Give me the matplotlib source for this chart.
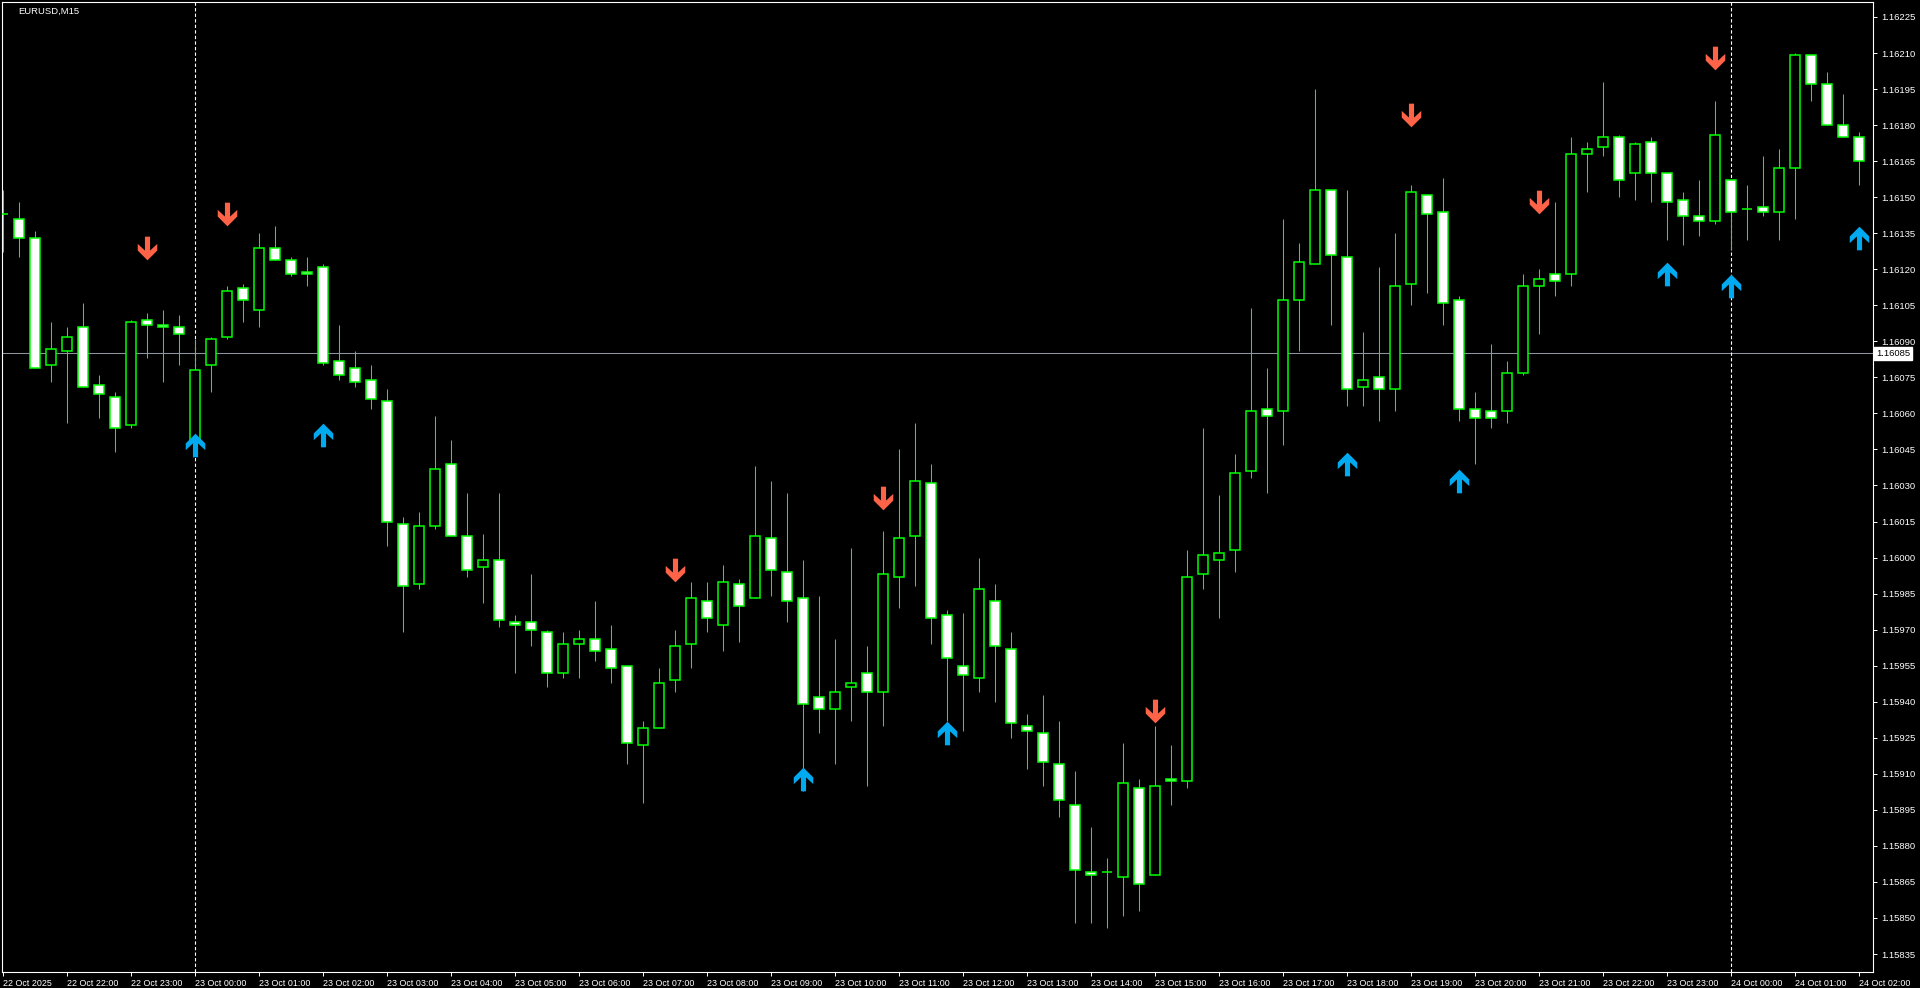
import matplotlib
matplotlib.use('Agg')
import matplotlib.pyplot as plt
import matplotlib.transforms as mtransforms
from matplotlib.path import Path
import numpy as np

plt.rcParams['font.family'] = ['Liberation Sans', 'DejaVu Sans']

symbol = 'EURUSD,M15'

# M15 bars, 22 Oct 21:00 .. 24 Oct 02:00
opens = [1.16143, 1.16141, 1.16133, 1.16080, 1.16086, 1.16096, 1.16072, 1.16067, 1.16055, 1.16099,
         1.16097, 1.16096, 1.16048, 1.16080, 1.16092, 1.16112, 1.16103, 1.16129, 1.16124, 1.16119,
         1.16121, 1.16082, 1.16079, 1.16074, 1.16065, 1.16014, 1.15989, 1.16013, 1.16039, 1.16009,
         1.15996, 1.15999, 1.15973, 1.15973, 1.15969, 1.15952, 1.15964, 1.15966, 1.15962, 1.15955,
         1.15922, 1.15929, 1.15949, 1.15964, 1.15982, 1.15972, 1.15989, 1.15983, 1.16008, 1.15994,
         1.15983, 1.15942, 1.15937, 1.15946, 1.15952, 1.15944, 1.15992, 1.16009, 1.16031, 1.15976,
         1.15955, 1.15950, 1.15982, 1.15962, 1.15930, 1.15927, 1.15914, 1.15897, 1.15869, 1.15869,
         1.15867, 1.15904, 1.15868, 1.15908, 1.15907, 1.15993, 1.15999, 1.16003, 1.16036, 1.16062,
         1.16061, 1.16107, 1.16122, 1.16153, 1.16125, 1.16071, 1.16075, 1.16070, 1.16114, 1.16151,
         1.16144, 1.16107, 1.16062, 1.16061, 1.16061, 1.16077, 1.16113, 1.16118, 1.16118, 1.16168,
         1.16171, 1.16175, 1.16160, 1.16173, 1.16160, 1.16149, 1.16142, 1.16140, 1.16157, 1.16145,
         1.16146, 1.16144, 1.16162, 1.16209, 1.16197, 1.16180, 1.16175]
highs = [1.16153, 1.16148, 1.16136, 1.16098, 1.16096, 1.16106, 1.16076, 1.16069, 1.16099, 1.16102,
         1.16103, 1.16101, 1.16091, 1.16092, 1.16113, 1.16114, 1.16135, 1.16138, 1.16125, 1.16125,
         1.16122, 1.16097, 1.16086, 1.16080, 1.16070, 1.16017, 1.16019, 1.16059, 1.16049, 1.16027,
         1.16010, 1.16027, 1.15976, 1.15993, 1.15970, 1.15969, 1.15970, 1.15982, 1.15972, 1.15955,
         1.15932, 1.15954, 1.15970, 1.15990, 1.15990, 1.15997, 1.15991, 1.16038, 1.16032, 1.16027,
         1.15999, 1.15984, 1.15966, 1.16004, 1.15963, 1.16011, 1.16045, 1.16056, 1.16039, 1.15978,
         1.15977, 1.16000, 1.15989, 1.15969, 1.15935, 1.15943, 1.15932, 1.15911, 1.15888, 1.15875,
         1.15923, 1.15908, 1.15930, 1.15922, 1.16003, 1.16054, 1.16026, 1.16043, 1.16104, 1.16079,
         1.16141, 1.16131, 1.16195, 1.16153, 1.16153, 1.16094, 1.16121, 1.16135, 1.16155, 1.16151,
         1.16158, 1.16109, 1.16069, 1.16089, 1.16082, 1.16118, 1.16120, 1.16148, 1.16175, 1.16173,
         1.16198, 1.16176, 1.16173, 1.16175, 1.16160, 1.16152, 1.16157, 1.16190, 1.16157, 1.16155,
         1.16167, 1.16170, 1.16210, 1.16209, 1.16202, 1.16193, 1.16177]
lows = [1.16127, 1.16125, 1.16079, 1.16073, 1.16056, 1.16071, 1.16058, 1.16044, 1.16054, 1.16083,
        1.16073, 1.16080, 1.16047, 1.16069, 1.16091, 1.16098, 1.16096, 1.16124, 1.16117, 1.16113,
        1.16080, 1.16074, 1.16071, 1.16062, 1.16005, 1.15969, 1.15987, 1.16012, 1.16009, 1.15992,
        1.15981, 1.15971, 1.15952, 1.15963, 1.15946, 1.15950, 1.15950, 1.15957, 1.15948, 1.15914,
        1.15898, 1.15929, 1.15944, 1.15954, 1.15969, 1.15961, 1.15965, 1.15983, 1.15984, 1.15973,
        1.15903, 1.15927, 1.15914, 1.15932, 1.15905, 1.15930, 1.15979, 1.15988, 1.15964, 1.15932,
        1.15928, 1.15944, 1.15940, 1.15925, 1.15912, 1.15905, 1.15892, 1.15848, 1.15848, 1.15846,
        1.15851, 1.15853, 1.15868, 1.15897, 1.15904, 1.15987, 1.15975, 1.15994, 1.16033, 1.16027,
        1.16047, 1.16086, 1.16122, 1.16097, 1.16063, 1.16063, 1.16057, 1.16061, 1.16105, 1.16110,
        1.16097, 1.16057, 1.16039, 1.16054, 1.16056, 1.16076, 1.16093, 1.16109, 1.16113, 1.16152,
        1.16167, 1.16150, 1.16149, 1.16148, 1.16132, 1.16130, 1.16134, 1.16139, 1.16128, 1.16132,
        1.16142, 1.16132, 1.16141, 1.16190, 1.16180, 1.16175, 1.16155]
closes = [1.16143, 1.16133, 1.16079, 1.16087, 1.16092, 1.16071, 1.16068, 1.16054, 1.16098, 1.16097,
          1.16096, 1.16093, 1.16078, 1.16091, 1.16111, 1.16107, 1.16129, 1.16124, 1.16118, 1.16118,
          1.16081, 1.16076, 1.16073, 1.16066, 1.16015, 1.15988, 1.16013, 1.16037, 1.16009, 1.15995,
          1.15999, 1.15974, 1.15972, 1.15970, 1.15952, 1.15964, 1.15966, 1.15961, 1.15954, 1.15923,
          1.15929, 1.15948, 1.15963, 1.15983, 1.15975, 1.15990, 1.15980, 1.16009, 1.15995, 1.15982,
          1.15939, 1.15937, 1.15944, 1.15948, 1.15944, 1.15993, 1.16008, 1.16032, 1.15975, 1.15958,
          1.15951, 1.15987, 1.15963, 1.15931, 1.15928, 1.15915, 1.15899, 1.15870, 1.15868, 1.15869,
          1.15906, 1.15864, 1.15905, 1.15907, 1.15992, 1.16001, 1.16002, 1.16035, 1.16061, 1.16059,
          1.16107, 1.16123, 1.16153, 1.16126, 1.16070, 1.16074, 1.16070, 1.16113, 1.16152, 1.16143,
          1.16106, 1.16062, 1.16058, 1.16058, 1.16077, 1.16113, 1.16116, 1.16115, 1.16168, 1.16170,
          1.16175, 1.16157, 1.16172, 1.16160, 1.16148, 1.16142, 1.16140, 1.16176, 1.16144, 1.16145,
          1.16144, 1.16162, 1.16209, 1.16197, 1.16180, 1.16175, 1.16165]

# hour labels, one every 4 bars
hour_labels = ['22 Oct 2025', '22 Oct 22:00', '22 Oct 23:00'] + \
              ['23 Oct %02d:00' % h for h in range(24)] + \
              ['24 Oct 00:00', '24 Oct 01:00', '24 Oct 02:00']

# indicator arrows
sell_bars = [9, 14, 42, 55, 72, 88, 96, 107]
sell_prices = [1.16129, 1.16143, 1.15995, 1.16025, 1.15936, 1.16184, 1.16148, 1.16208]
buy_bars = [12, 20, 50, 59, 84, 91, 104, 108, 116]
buy_prices = [1.16047, 1.16051, 1.15908, 1.15927, 1.16039, 1.16032, 1.16118, 1.16113, 1.16133]

price_line = 1.16085
day_breaks = [12, 108]

W, H = 1920, 988
fig = plt.figure(figsize=(W / 100, H / 100), dpi=100, facecolor='black')
ax = fig.add_axes([2 / W, 16 / H, 1871 / W, 970 / H], facecolor='black')

o = np.array(opens)
c = np.array(closes)
hi = np.array(highs)
lo = np.array(lows)
x = np.arange(len(o))
bull = c >= o

lime = '#00FF00'

# wicks
ax.vlines(x, lo, hi, color=lime, lw=0.75, zorder=2)
# bodies: bull = black, bear = white
body_bottom = np.minimum(o, c)
body_height = np.abs(c - o)
ax.bar(x[bull], body_height[bull], bottom=body_bottom[bull], width=0.58,
       color='black', edgecolor=lime, linewidth=1.1, zorder=3)
ax.bar(x[~bull], body_height[~bull], bottom=body_bottom[~bull], width=0.58,
       color='white', edgecolor=lime, linewidth=1.1, zorder=3)

# arrows
down_v = [(-2.5, 11.5), (2.5, 11.5), (2.5, -2), (9.5, 4.5), (9.5, -2), (0, -11.5),
          (-9.5, -2), (-9.5, 4.5), (-2.5, -2), (-2.5, 11.5)]
codes = [Path.MOVETO] + [Path.LINETO] * (len(down_v) - 2) + [Path.CLOSEPOLY]
down_arrow = Path(down_v, codes)
up_arrow = Path([(vx, -vy) for vx, vy in down_v], codes)
ax.scatter(sell_bars, sell_prices, marker=down_arrow, s=290, c='#FF6347', linewidths=0, zorder=5)
ax.scatter(buy_bars, buy_prices, marker=up_arrow, s=290, c='#00AAF0', linewidths=0, zorder=5)

# price line and day separators
ax.axhline(price_line, color='#8C96A0', lw=0.75, zorder=1)
for b in day_breaks:
    ax.axvline(b, color='white', lw=0.8, linestyle=(0, (3, 2)), zorder=1)

ax.set_xlim(-0.0625, 116.875)
ax.set_ylim(1.1582751, 1.1623124)

# axes styling
for sp in ax.spines.values():
    sp.set_color('white')
    sp.set_linewidth(0.8)

ax.yaxis.tick_right()
yt = np.round(np.arange(1.15835, 1.162251, 0.00015), 5)
ax.set_yticks(yt)
ax.set_yticklabels(['%.5f' % v for v in yt])
ax.set_xticks(np.arange(0, len(o), 4))
ax.set_xticklabels(hour_labels, ha='left')
ax.tick_params(axis='both', colors='white', labelcolor='white', labelsize=6.8,
               length=3, width=0.7, direction='out')
ax.tick_params(axis='y', pad=3)
ax.tick_params(axis='x', pad=2, labelsize=6.4)

# current price label
trans = mtransforms.blended_transform_factory(ax.transAxes, ax.transData)
ax.text(1.0017, price_line, '%.5f' % price_line, transform=trans, ha='left', va='center',
        fontsize=6.8, color='black',
        bbox=dict(facecolor='white', edgecolor='white', boxstyle='square,pad=0.2'), zorder=6)

fig.text(18 / W, 1 - 11 / H, symbol, color='white', fontsize=6.8, ha='left', va='center')

fig.savefig('out.png', dpi=100, facecolor='black')
